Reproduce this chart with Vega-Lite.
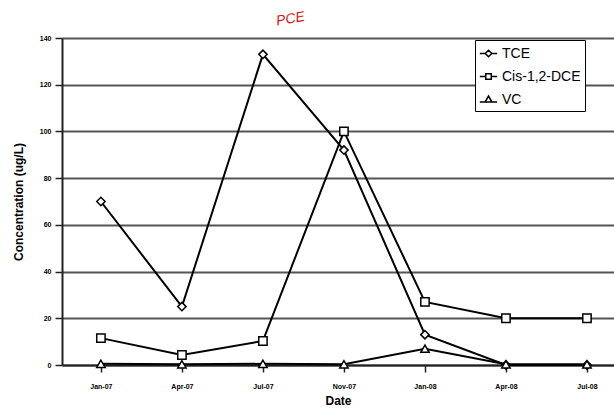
{
  "$schema": "https://vega.github.io/schema/vega-lite/v6.json",
  "width": 552,
  "height": 327,
  "padding": {"left": 62, "top": 38, "right": 0, "bottom": 44},
  "autosize": {"type": "none"},
  "background": "white",
  "config": {
    "view": {"stroke": null},
    "font": "Liberation Sans"
  },
  "datasets": {
    "conc": [
      {"date": "Jan-07", "series": "TCE", "value": 70},
      {"date": "Apr-07", "series": "TCE", "value": 25},
      {"date": "Jul-07", "series": "TCE", "value": 133},
      {"date": "Nov-07", "series": "TCE", "value": 92},
      {"date": "Jan-08", "series": "TCE", "value": 13},
      {"date": "Apr-08", "series": "TCE", "value": 0},
      {"date": "Jul-08", "series": "TCE", "value": 0},
      {"date": "Jan-07", "series": "Cis-1,2-DCE", "value": 11.5},
      {"date": "Apr-07", "series": "Cis-1,2-DCE", "value": 4.3},
      {"date": "Jul-07", "series": "Cis-1,2-DCE", "value": 10.3},
      {"date": "Nov-07", "series": "Cis-1,2-DCE", "value": 100},
      {"date": "Jan-08", "series": "Cis-1,2-DCE", "value": 27},
      {"date": "Apr-08", "series": "Cis-1,2-DCE", "value": 20},
      {"date": "Jul-08", "series": "Cis-1,2-DCE", "value": 20},
      {"date": "Jan-07", "series": "VC", "value": 0.5},
      {"date": "Apr-07", "series": "VC", "value": 0.3},
      {"date": "Jul-07", "series": "VC", "value": 0.5},
      {"date": "Nov-07", "series": "VC", "value": 0.3},
      {"date": "Jan-08", "series": "VC", "value": 7},
      {"date": "Apr-08", "series": "VC", "value": 0.3},
      {"date": "Jul-08", "series": "VC", "value": 0.3}
    ],
    "note": [{"date": "Jul-07", "value": 146, "label": "PCE"}]
  },
  "resolve": {"scale": {"shape": "independent"}, "legend": {"shape": "independent"}},
  "encoding": {
    "x": {
      "field": "date",
      "type": "ordinal",
      "sort": null,
      "scale": {"type": "point", "domain": ["Jan-07", "Apr-07", "Jul-07", "Nov-07", "Jan-08", "Apr-08", "Jul-08"], "padding": 0.407, "align": 0.59},
      "axis": {
        "title": "Date",
        "titleFontSize": 12,
        "titleFontWeight": "bold",
        "titlePadding": 6,
        "labelAngle": 0,
        "labelFontSize": 7,
        "labelFontWeight": "bold",
        "labelPadding": 10,
        "tickSize": 7,
        "tickColor": "#222",
        "tickWidth": 1.5,
        "domainColor": "#222",
        "domainWidth": 2,
        "grid": false
      }
    },
    "y": {
      "field": "value",
      "type": "quantitative",
      "scale": {"domain": [0, 140], "nice": false},
      "axis": {
        "title": "Concentration (ug/L)",
        "titleFontSize": 12,
        "titleFontWeight": "bold",
        "titlePadding": 14,
        "values": [0, 20, 40, 60, 80, 100, 120, 140],
        "labelFontSize": 7,
        "labelFontWeight": "bold",
        "labelPadding": 4,
        "tickSize": 7,
        "tickColor": "#222",
        "tickWidth": 1.5,
        "domain": true,
        "domainColor": "#222",
        "domainWidth": 2,
        "grid": true,
        "gridColor": "#555",
        "gridWidth": 2
      }
    }
  },
  "layer": [
    {
      "data": {"name": "conc"},
      "mark": {"type": "line", "color": "black", "strokeWidth": 2},
      "encoding": {"detail": {"field": "series"}}
    },
    {
      "data": {"name": "conc"},
      "mark": {"type": "point", "filled": false, "fill": "white", "stroke": "black", "strokeWidth": 1.5, "size": 70, "opacity": 1},
      "encoding": {
        "shape": {
          "field": "series",
          "type": "nominal",
          "scale": {"domain": ["TCE", "Cis-1,2-DCE", "VC"], "range": ["diamond", "square", "triangle-up"]},
          "legend": null
        }
      }
    },
    {
      "data": {"name": "conc"},
      "transform": [{"filter": "datum.value < -1"}],
      "mark": {"type": "point", "filled": false, "color": "black", "strokeWidth": 1.5, "opacity": 1},
      "encoding": {
        "shape": {
          "field": "series",
          "type": "nominal",
          "scale": {
            "domain": ["TCE", "Cis-1,2-DCE", "VC"],
            "range": [
              "M-1,0L-0.38,0M0.38,0L1,0M-0.38,0L0,-0.38L0.38,0L0,0.38Z",
              "M-1,0L-0.32,0M0.32,0L1,0M-0.32,-0.32L0.32,-0.32L0.32,0.32L-0.32,0.32Z",
              "M-1,0.3L-0.4,0.3M0.4,0.3L1,0.3M-0.4,0.3L0,-0.4L0.4,0.3Z"
            ]
          },
          "legend": {
            "title": null,
            "orient": "none",
            "legendX": 413,
            "legendY": 2,
            "fillColor": "white",
            "strokeColor": "black",
            "padding": 4,
            "labelFontSize": 14,
            "labelColor": "black",
            "labelOffset": 4,
            "rowPadding": 6,
            "symbolSize": 300,
            "symbolFillColor": "white",
            "symbolStrokeColor": "black",
            "symbolStrokeWidth": 1.5,
            "symbolOpacity": 1
          }
        }
      }
    },
    {
      "data": {"name": "note"},
      "mark": {"type": "text", "color": "#d21a1a", "fontSize": 14, "fontStyle": "italic", "angle": -10, "dx": 28},
      "encoding": {"text": {"field": "label"}}
    }
  ]
}
